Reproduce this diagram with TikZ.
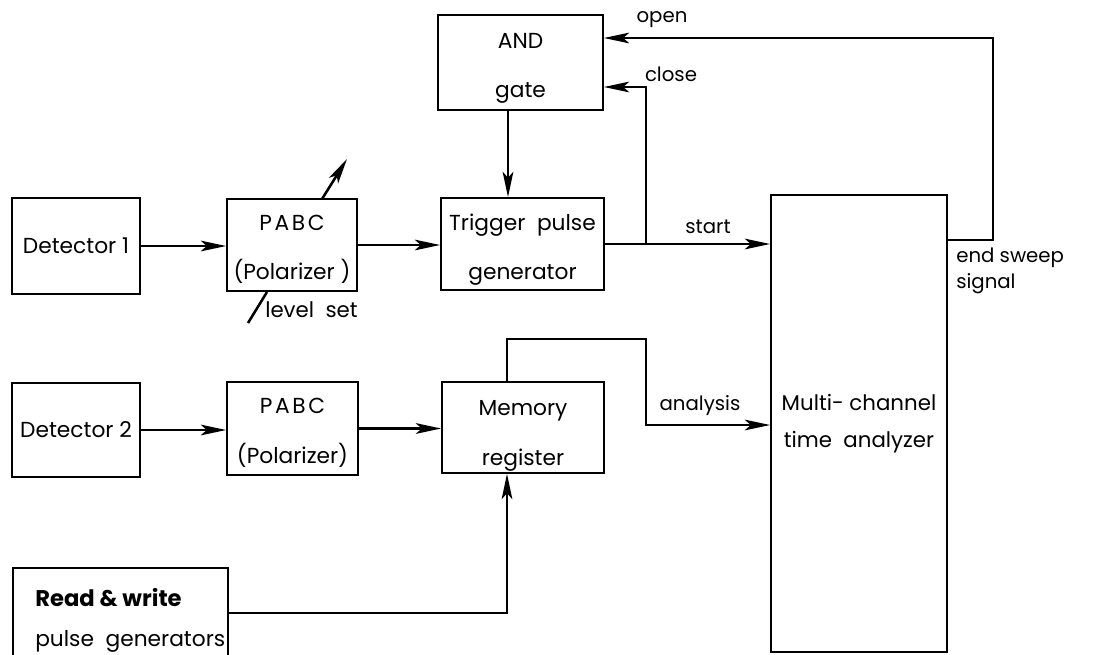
\documentclass[tikz,border=0pt]{standalone}
\usepackage{fontspec}
\setmainfont{Poppins}
\usetikzlibrary{arrows.meta,calc}
\newcommand\upstrut[1]{\rule{0pt}{#1}}
\begin{document}
\begin{tikzpicture}[x=0.75pt,y=-0.75pt,
  box/.style={draw,line width=1.3pt,inner sep=0pt,align=center,font=\fontsize{16.3}{37}\selectfont},
  arr/.style={line width=1.9pt,-{Stealth[length=19pt,width=8pt,inset=4.5pt]}},
  wire/.style={line width=1.9pt},
  lbl/.style={inner sep=0pt,font=\fontsize{14.8}{17}\selectfont}]
\fill[white] (0,0) rectangle (1100,654);
\useasboundingbox (0,0) rectangle (1100,654);
% boxes
\node[box,minimum width=96pt,minimum height=72pt] (det1) at (76,246) {Detector 1};
\node[box,minimum width=97.5pt,minimum height=69pt] (pabc1) at (292,245) {\upstrut{18pt}{\addfontfeature{LetterSpace=12}PABC}\\(Polarizer )};
\node[box,minimum width=122.25pt,minimum height=69pt] (trig) at (522.5,244) {\upstrut{21pt}Trigger\ \ pulse\\generator};
\node[box,minimum width=123.75pt,minimum height=71.25pt] (and) at (520.5,62.5) {\upstrut{20pt}AND\\gate};
\node[box,minimum width=132pt,minimum height=342.75pt,font=\fontsize{16}{28}\selectfont] (mca) at (859,423.5) {Multi- channel\\time\ \ analyzer};
\node[box,minimum width=96pt,minimum height=70.5pt] (det2) at (76,430) {Detector 2};
\node[box,minimum width=98.25pt,minimum height=69.75pt] (pabc2) at (292.5,428.5) {\upstrut{18pt}{\addfontfeature{LetterSpace=12}PABC}\\(Polarizer)};
\node[box,minimum width=121.5pt,minimum height=68.25pt] (mem) at (523,427.5) {\upstrut{24pt}Memory\\register};
\node[box,minimum width=161.25pt,minimum height=76.5pt] (rw) at (120.5,619) {};
\node[anchor=west,inner sep=0pt,align=left,font=\fontsize{16.3}{30}\selectfont] (rwt) at (35,620) {{\fontsize{17}{30}\selectfont\bfseries Read \& write}\\pulse\ \ generators};
% coordinates
\coordinate (j1) at (646,244);
\coordinate (c1) at (646,87);
\coordinate (o1) at (993,240);
\coordinate (o2) at (993,38);
\coordinate (a1) at (508,110);
\coordinate (k1) at (322,199);
\coordinate (k2) at (347,159);
\coordinate (l1) at (248,323);
\coordinate (l2) at (267,292);
\coordinate (m1) at (507,382);
\coordinate (m2) at (507,339);
\coordinate (m3) at (646,339);
\coordinate (m4) at (646,425);
\coordinate (r1) at (228,613);
\coordinate (r2) at (507,613);
% connectors
\draw[arr] (det1.east) -- (det1.east -| pabc1.west);
\draw[arr] (pabc1.east) -- (pabc1.east -| trig.west);
\draw[arr] (trig.east) -- (trig.east -| mca.west);
\draw[arr] (j1) -- (c1) -- (c1 -| and.east);
\draw[arr] (o1 -| mca.east) -- (o1) -- (o2) -- (o2 -| and.east);
\draw[arr] (a1) -- (a1 |- trig.north);
\draw[arr] (k1) -- (k2);
\draw[wire] (l1) -- (l2);
\draw[arr] (det2.east) -- (det2.east -| pabc2.west);
\draw[arr] (pabc2.east) -- (pabc2.east -| mem.west);
\draw[arr] (m1) -- (m2) -- (m3) -- (m4) -- (m4 -| mca.west);
\draw[arr] (r1) -- (r2) -- (r2 |- mem.south);
% labels
\node[lbl] (lopen) at (662,20) {open};
\node[lbl] (lclose) at (671,74) {close};
\node[lbl] (lstart) at (708,227) {start};
\node[lbl,anchor=north west,align=left,font=\fontsize{14.8}{19}\selectfont] (lend) at (956,248) {end sweep\\signal};
\node[lbl] (lana) at (700,406) {analysis};
\node[lbl,anchor=west,font=\fontsize{16}{19}\selectfont] (llev) at (265,310) {level\ \ set};
\end{tikzpicture}
\end{document}
